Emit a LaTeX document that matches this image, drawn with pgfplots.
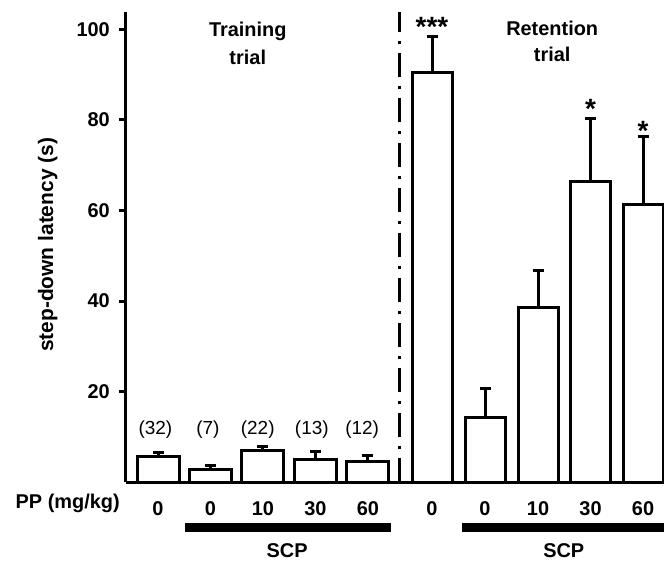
\documentclass[border=0pt]{standalone}
\usepackage{fontspec}
\setmainfont{Liberation Sans}
\usepackage{pgfplots}
\pgfplotsset{compat=1.18}

% training and retention trials: x position, latency, SEM
\pgfplotstableread{
x    y    e
0    5.8  0.8
1    2.9  0.8
2    7.0  0.8
3    5.1  1.7
4    4.7  1.2
}\training
\pgfplotstableread{
x     y     e
5.22  90.4  8.1
6.23  14.3  6.4
7.24  38.6  8.1
8.24  66.4  14.0
9.24  61.4  15.0
}\retention

\begin{document}
\begin{tikzpicture}
\begin{axis}[at={(0,0)},anchor=south west,
  scale only axis,width=538bp,height=470.3bp,
  xmin=-0.61,xmax=9.64,ymin=0,ymax=103.8,
  axis y line*=left,axis x line*=bottom,
  axis line style={line width=3bp,-},
  clip=false,
  ytick={20,40,60,80,100},
  tick align=outside,major tick length=7bp,
  ytick style={line width=3bp,black},
  xtick={0,1,2,3,4,5.22,6.23,7.24,8.24,9.24},
  xticklabels={0,0,10,30,60,0,0,10,30,60},
  xtick style={draw=none},
  /pgf/number format/assume math mode=true,
  ticklabel style={font=\fontsize{20}{24}\selectfont\bfseries},
  xticklabel style={anchor=base,yshift=-25.7bp,inner sep=0pt},
  yticklabel style={inner sep=0pt,xshift=-9bp},
]
\addplot[ybar,bar width=42bp,fill=white,draw=black,line width=3bp,
  error bars/.cd,y dir=plus,y explicit,
  error bar style={line width=3bp},
  error mark options={rotate=90,line width=3bp,mark size=5.5bp}]
  table[x=x,y=y,y error=e]{\training};
\addplot[ybar,bar width=40bp,fill=white,draw=black,line width=3bp,
  error bars/.cd,y dir=plus,y explicit,
  error bar style={line width=3bp},
  error mark options={rotate=90,line width=3bp,mark size=5.5bp}]
  table[x=x,y=y,y error=e]{\retention};

% divider between the trials
\draw[line width=3bp,dash pattern=on 24bp off 9bp on 3bp off 9bp]
  (axis cs:4.61,0) -- (axis cs:4.61,103.8);
\draw[line width=3bp] (axis cs:-0.61,0) -- ++(-8bp,0);

% group sizes
\begin{scope}[every node/.style={font=\fontsize{19}{23}\selectfont,anchor=center}]
\node at (axis cs:-0.05,11.6) {(32)};
\node at (axis cs:0.95,11.6) {(7)};
\node at (axis cs:1.9,11.6) {(22)};
\node at (axis cs:2.93,11.6) {(13)};
\node at (axis cs:3.89,11.6) {(12)};
\end{scope}

% significance stars
\begin{scope}[every node/.style={font=\fontsize{28}{30}\selectfont\bfseries,anchor=base,inner sep=0pt}]
\node at (axis cs:5.22,98.5) {***};
\node at (axis cs:8.24,80.4) {*};
\node at (axis cs:9.24,75.4) {*};
\end{scope}

% panel titles and lower labels
\begin{scope}[every node/.style={font=\fontsize{20}{24}\selectfont\bfseries,anchor=base,inner sep=0pt}]
\node at (axis cs:1.71,98.4) {Training};
\node at (axis cs:1.71,92.3) {trial};
\node at (axis cs:7.51,98.7) {Retention};
\node at (axis cs:7.51,92.9) {trial};
\node at (axis cs:-1.72,-5.7) {PP (mg/kg)};
\node at (axis cs:2.46,-16.7) {SCP};
\node at (axis cs:7.73,-16.7) {SCP};
\end{scope}
\fill (axis cs:0.51,-8.95) rectangle (axis cs:4.44,-10.9);
\fill (axis cs:5.79,-8.95) rectangle (axis cs:9.7,-10.9);

\node[rotate=90,font=\fontsize{21}{24}\selectfont\bfseries,inner sep=0pt]
  at (axis cs:-2.1,52.4) {step-down latency (s)};
\end{axis}
\pgfresetboundingbox
\path[use as bounding box] (-126bp,-80bp) rectangle (538bp,482.3bp);
\end{tikzpicture}
\end{document}
